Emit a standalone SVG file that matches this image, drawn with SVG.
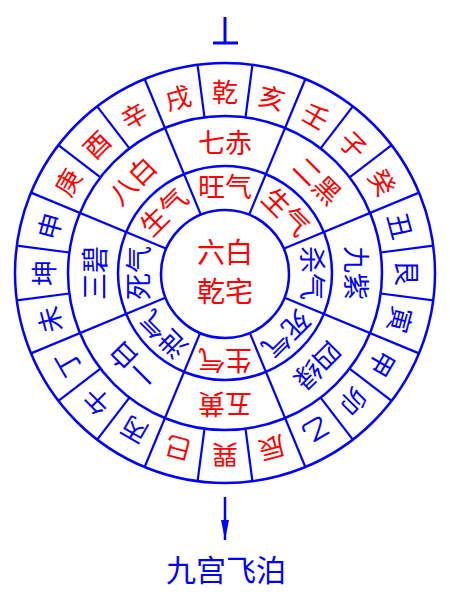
<svg xmlns="http://www.w3.org/2000/svg" width="450" height="600" viewBox="0 0 450 600">
<style>
.ln{stroke:#0000ff;stroke-width:2.2;fill:none}
.c{stroke:#0000ff;stroke-width:2.5;fill:none}
text{font-family:"Noto Sans CJK SC","Noto Sans",sans-serif;text-anchor:middle;dominant-baseline:central}
.r{fill:#ff0000}
.b{fill:#0000ff}
.m{font-size:26px}
.s{font-size:27px}
.ctr{font-size:28px}
.t{font-size:30px}
</style>
<defs>
<marker id="ah" markerUnits="userSpaceOnUse" markerWidth="20" markerHeight="8" refX="20" refY="4" orient="auto" viewBox="0 0 20 8">
<path d="M0,0 L20,4 L0,8 Z" fill="#0000ff"/>
</marker>
</defs>
<rect width="450" height="600" fill="#ffffff"/>
<g id="rings">
<circle class="c" cx="225" cy="273" r="210"/>
<circle class="c" cx="225" cy="273" r="157"/>
<circle class="c" cx="225" cy="273" r="107"/>
<circle class="c" cx="225" cy="274" r="64"/>
</g>
<g id="connectors">
<g class="ln">
<line x1="225" y1="63" x2="225" y2="116" transform="rotate(7.5 225 273)"/>
<line x1="225" y1="63" x2="225" y2="116" transform="rotate(37.5 225 273)"/>
<line x1="225" y1="63" x2="225" y2="116" transform="rotate(52.5 225 273)"/>
<line x1="225" y1="63" x2="225" y2="116" transform="rotate(82.5 225 273)"/>
<line x1="225" y1="63" x2="225" y2="116" transform="rotate(97.5 225 273)"/>
<line x1="225" y1="63" x2="225" y2="116" transform="rotate(127.5 225 273)"/>
<line x1="225" y1="63" x2="225" y2="116" transform="rotate(142.5 225 273)"/>
<line x1="225" y1="63" x2="225" y2="116" transform="rotate(172.5 225 273)"/>
<line x1="225" y1="63" x2="225" y2="116" transform="rotate(187.5 225 273)"/>
<line x1="225" y1="63" x2="225" y2="116" transform="rotate(217.5 225 273)"/>
<line x1="225" y1="63" x2="225" y2="116" transform="rotate(232.5 225 273)"/>
<line x1="225" y1="63" x2="225" y2="116" transform="rotate(262.5 225 273)"/>
<line x1="225" y1="63" x2="225" y2="116" transform="rotate(277.5 225 273)"/>
<line x1="225" y1="63" x2="225" y2="116" transform="rotate(307.5 225 273)"/>
<line x1="225" y1="63" x2="225" y2="116" transform="rotate(322.5 225 273)"/>
<line x1="225" y1="63" x2="225" y2="116" transform="rotate(352.5 225 273)"/>
<line x1="225" y1="63" x2="225" y2="209" transform="rotate(22.5 225 273)"/>
<line x1="225" y1="63" x2="225" y2="209" transform="rotate(67.5 225 273)"/>
<line x1="225" y1="63" x2="225" y2="209" transform="rotate(112.5 225 273)"/>
<line x1="225" y1="63" x2="225" y2="209" transform="rotate(157.5 225 273)"/>
<line x1="225" y1="63" x2="225" y2="209" transform="rotate(202.5 225 273)"/>
<line x1="225" y1="63" x2="225" y2="209" transform="rotate(247.5 225 273)"/>
<line x1="225" y1="63" x2="225" y2="209" transform="rotate(292.5 225 273)"/>
<line x1="225" y1="63" x2="225" y2="209" transform="rotate(337.5 225 273)"/>
</g>
<line x1="225" y1="17" x2="225" y2="43" stroke="#0000ff" stroke-width="3"/>
<line x1="213" y1="43" x2="238" y2="43" stroke="#0000ff" stroke-width="3"/>
<line x1="225" y1="497" x2="225" y2="540" stroke="#0000ff" stroke-width="2.5" marker-end="url(#ah)"/>
</g>
<g id="mountains" class="m">
<g id="m-qian"><text class="r" x="225" y="90" transform="rotate(0 225 273)">乾</text></g>
<g id="m-hai"><text class="r" x="225" y="90" transform="rotate(15 225 273)">亥</text></g>
<g id="m-ren"><text class="r" x="225" y="90" transform="rotate(30 225 273)">壬</text></g>
<g id="m-zi"><text class="r" x="225" y="90" transform="rotate(45 225 273)">子</text></g>
<g id="m-gui"><text class="r" x="225" y="90" transform="rotate(60 225 273)">癸</text></g>
<g id="m-chou"><text class="b" x="225" y="90" transform="rotate(75 225 273)">丑</text></g>
<g id="m-gen"><text class="b" x="225" y="90" transform="rotate(90 225 273)">艮</text></g>
<g id="m-yin"><text class="b" x="225" y="90" transform="rotate(105 225 273)">寅</text></g>
<g id="m-jia"><text class="b" x="225" y="90" transform="rotate(120 225 273)">甲</text></g>
<g id="m-mao"><text class="b" x="225" y="90" transform="rotate(135 225 273)">卯</text></g>
<g id="m-yi"><text class="b" x="225" y="90" transform="rotate(150 225 273)">乙</text></g>
<g id="m-chen"><text class="r" x="225" y="90" transform="rotate(165 225 273)">辰</text></g>
<g id="m-xun"><text class="r" x="225" y="90" transform="rotate(180 225 273)">巽</text></g>
<g id="m-si"><text class="r" x="225" y="90" transform="rotate(195 225 273)">巳</text></g>
<g id="m-bing"><text class="b" x="225" y="90" transform="rotate(210 225 273)">丙</text></g>
<g id="m-wu"><text class="b" x="225" y="90" transform="rotate(225 225 273)">午</text></g>
<g id="m-ding"><text class="b" x="225" y="90" transform="rotate(240 225 273)">丁</text></g>
<g id="m-wei"><text class="b" x="225" y="90" transform="rotate(255 225 273)">未</text></g>
<g id="m-kun"><text class="b" x="225" y="90" transform="rotate(270 225 273)">坤</text></g>
<g id="m-shen"><text class="b" x="225" y="90" transform="rotate(285 225 273)">申</text></g>
<g id="m-geng"><text class="r" x="225" y="90" transform="rotate(300 225 273)">庚</text></g>
<g id="m-you"><text class="r" x="225" y="90" transform="rotate(315 225 273)">酉</text></g>
<g id="m-xin"><text class="r" x="225" y="90" transform="rotate(330 225 273)">辛</text></g>
<g id="m-xu"><text class="r" x="225" y="90" transform="rotate(345 225 273)">戌</text></g>
</g>
<g id="stars" class="s">
<g id="star-7"><text class="r" x="225" y="141" transform="rotate(0 225 273)">七赤</text></g>
<g id="star-2"><text class="r" x="225" y="141" transform="rotate(45 225 273)">二黑</text></g>
<g id="star-9"><text class="b" x="225" y="141" transform="rotate(90 225 273)">九紫</text></g>
<g id="star-4"><text class="b" x="225" y="141" transform="rotate(135 225 273)">四绿</text></g>
<g id="star-5"><text class="r" x="225" y="141" transform="rotate(180 225 273)">五黄</text></g>
<g id="star-1"><text class="b" x="225" y="141" transform="rotate(225 225 273)">一白</text></g>
<g id="star-3"><text class="b" x="225" y="141" transform="rotate(270 225 273)">三碧</text></g>
<g id="star-8"><text class="r" x="225" y="141" transform="rotate(315 225 273)">八白</text></g>
</g>
<g id="qi" class="s">
<g id="qi-n"><text class="r" x="225" y="185" transform="rotate(0 225 273)">旺气</text></g>
<g id="qi-ne"><text class="r" x="225" y="185" transform="rotate(45 225 273)">生气</text></g>
<g id="qi-e"><text class="b" x="225" y="185" transform="rotate(90 225 273)">杀气</text></g>
<g id="qi-se"><text class="b" x="225" y="185" transform="rotate(135 225 273)">死气</text></g>
<g id="qi-s"><text class="r" x="225" y="185" transform="rotate(180 225 273)">生气</text></g>
<g id="qi-sw"><text class="b" x="225" y="185" transform="rotate(225 225 273)">泄气</text></g>
<g id="qi-w"><text class="b" x="225" y="185" transform="rotate(270 225 273)">死气</text></g>
<g id="qi-nw"><text class="r" x="225" y="185" transform="rotate(315 225 273)">生气</text></g>
</g>
<g id="center" class="ctr">
<text class="r" x="225" y="251">六白</text>
<text class="r" x="225" y="290">乾宅</text>
</g>
<g id="title">
<text class="b t" x="226" y="568">九宫飞泊</text>
</g>
</svg>
